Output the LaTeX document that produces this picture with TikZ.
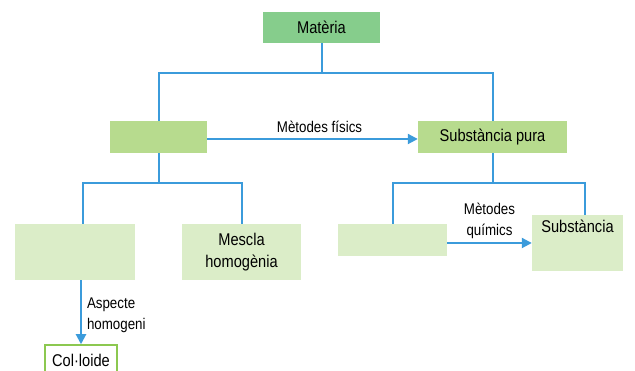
\documentclass[tikz,border=0pt]{standalone}
\usepackage{fontspec}
\setmainfont{Liberation Sans}[FakeStretch=0.86]
\usetikzlibrary{arrows.meta}
\definecolor{gdark}{HTML}{86CD8C}
\definecolor{gmid}{HTML}{B7DB8E}
\definecolor{gpale}{HTML}{DBEDC8}
\definecolor{gline}{HTML}{8CC850}
\definecolor{lineblue}{HTML}{3B9BDB}
\begin{document}
\begin{tikzpicture}[x=1pt,y=-1pt,
  box/.style={rectangle, inner sep=0pt, align=center, text=black,
    font=\fontsize{17}{22}\selectfont},
  lbl/.style={align=left, text=black, font=\fontsize{15.5}{21}\selectfont, inner sep=1pt},
  conn/.style={draw=lineblue, line width=2pt},
  arr/.style={draw=lineblue, line width=2pt, -{Triangle[length=10pt,width=10pt]}}]
\useasboundingbox (0,0) rectangle (635,371);
\fill[white] (0,0) rectangle (635,371);

\node[box, fill=gdark, minimum width=117pt, minimum height=31pt] (mat) at (321.5,27.5) {Matèria};
\node[box, fill=gmid, minimum width=97pt, minimum height=32pt] (lm) at (158.5,137) {};
\node[box, fill=gmid, minimum width=149pt, minimum height=32pt] (sp) at (492.5,137) {Substància pura};
\node[box, fill=gpale, minimum width=120pt, minimum height=56pt] (bl) at (75,252) {};
\node[box, fill=gpale, minimum width=119pt, minimum height=56pt] (mh) at (241.5,252) {Mescla\\homogènia};
\node[box, fill=gpale, minimum width=109pt, minimum height=32pt] (er) at (392.5,240) {};
\node[box, fill=gpale, minimum width=91pt, minimum height=56pt, font=\fontsize{17}{34}\selectfont] (su) at (577.5,243) {Substància\\\mbox{}};
\node[box, draw=gline, line width=1.5pt, fill=white, minimum width=72pt, minimum height=30pt] (col) at (81,360) {Col·loide};

\coordinate (j1) at (321.5,73);
\coordinate (j2) at (158.5,183);
\coordinate (j3) at (492.5,183);

\draw[conn] (mat.south) -- (j1);
\draw[conn] (lm.north) |- (j1) -| (sp.north);
\draw[conn] (lm.south) -- (j2);
\draw[conn] ([xshift=8pt]bl.north) |- (j2) -| (mh.north);
\draw[conn] (sp.south) -- (j3);
\draw[conn] (er.north) |- (j3) -| ([xshift=7.5pt]su.north);

\draw[arr] ([yshift=-2pt]lm.east) -- node[lbl, above=4pt, xshift=7pt] {Mètodes físics} ([yshift=-2pt]sp.west);
\draw[arr] ([yshift=-3pt]er.east) -- node[lbl, above=2pt, align=center] {Mètodes\\químics} (su.west);
\draw[arr] (bl.south -| col.north) -- node[lbl, right=4pt, pos=0.55] {Aspecte\\homogeni} (col.north);
\end{tikzpicture}
\end{document}
